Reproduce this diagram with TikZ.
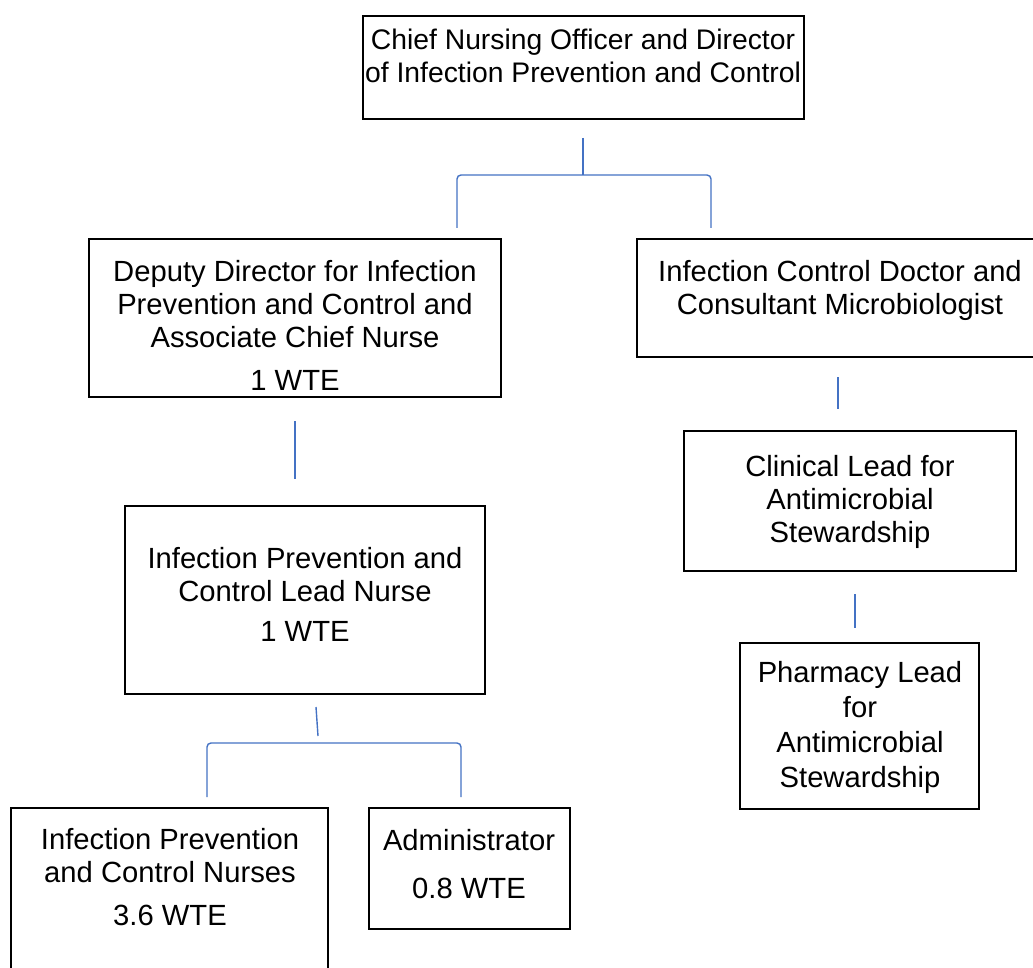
\documentclass[tikz,border=0pt]{standalone}
\usepackage{fontspec}
\setmainfont{Liberation Sans}
\begin{document}
\begin{tikzpicture}[x=1pt,y=-1pt,
  box/.style={draw=black, line width=1.3pt, rectangle, inner sep=0pt},
  txt/.style={align=center, inner sep=0pt, font=\fontsize{29.2}{33}\selectfont},
  conn/.style={draw={rgb,255:red,68;green,114;blue,196}, line width=1.4pt, rounded corners=4pt}]
\path[use as bounding box] (0,0) rectangle (1033,968);
\clip (0,0) rectangle (1033,968);
\fill[white] (0,0) rectangle (1033,968);
% boxes
\node[box, minimum width=441pt, minimum height=103pt] (b1) at (583.5,67.5) {};
\node[box, minimum width=412pt, minimum height=158pt] (b2) at (295,318) {};
\node[box, minimum width=408pt, minimum height=118pt] (b3) at (841,298) {};
\node[box, minimum width=360pt, minimum height=188pt] (b4) at (305,600) {};
\node[box, minimum width=317pt, minimum height=182pt] (b5) at (169.5,899) {};
\node[box, minimum width=201pt, minimum height=121pt] (b6) at (469.5,868.5) {};
\node[box, minimum width=332pt, minimum height=140pt] (b7) at (850,501) {};
\node[box, minimum width=239pt, minimum height=166pt] (b8) at (859.5,726) {};
% texts
\node[txt, font=\fontsize{28.3}{33}\selectfont] (t1) at (583,56) {Chief Nursing Officer and Director\\of Infection Prevention and Control};
\node[txt] (t2) at (295,325) {Deputy Director for Infection\\Prevention and Control and\\Associate Chief Nurse\\[10pt]1 WTE};
\node[txt] (t3) at (840,290) {Infection Control Doctor and\\Consultant Microbiologist};
\node[txt] (t4) at (305,594) {Infection Prevention and\\Control Lead Nurse\\[7pt]1 WTE};
\node[txt] (t5) at (170,877) {Infection Prevention\\and Control Nurses\\[10pt]3.6 WTE};
\node[txt] (t6) at (469,864) {Administrator\\[15pt]0.8 WTE};
\node[txt] (t7) at (850,502) {Clinical Lead for\\Antimicrobial\\Stewardship};
\node[txt, font=\fontsize{29.2}{35}\selectfont] (t8) at (860,727) {Pharmacy Lead\\for\\Antimicrobial\\Stewardship};
% connector coordinates
\coordinate (c1a) at (583,138);
\coordinate (c1b) at (583,175);
\coordinate (c1l) at (457,228);
\coordinate (c1r) at (711,228);
\coordinate (c2a) at (295,421);
\coordinate (c2b) at (295,479);
\coordinate (c3a) at (316,707);
\coordinate (c3b) at (318,736);
\coordinate (c3h) at (318,743);
\coordinate (c3l) at (207,797);
\coordinate (c3r) at (461,797);
\coordinate (c4a) at (838,377);
\coordinate (c4b) at (838,409);
\coordinate (c5a) at (855,594);
\coordinate (c5b) at (855,628);
% connectors
\draw[conn] (c1a) -- (c1b);
\draw[conn] (c1l) -- (c1l |- c1b) -- (c1r |- c1b) -- (c1r);
\draw[conn] (c2a) -- (c2b);
\draw[conn] (c3a) -- (c3b);
\draw[conn] (c3l) -- (c3l |- c3h) -- (c3r |- c3h) -- (c3r);
\draw[conn] (c4a) -- (c4b);
\draw[conn] (c5a) -- (c5b);
\end{tikzpicture}
\end{document}
